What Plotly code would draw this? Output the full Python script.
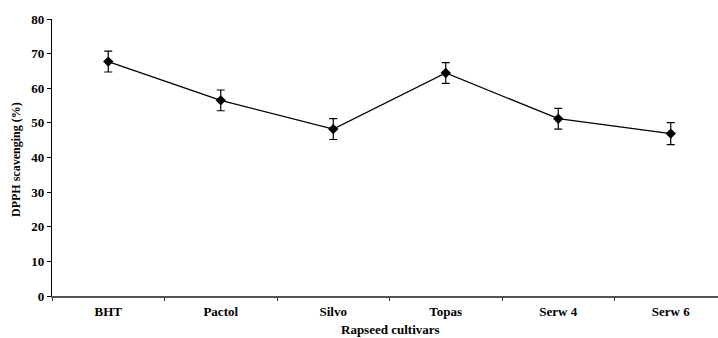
import plotly.graph_objects as go

categories = ["BHT", "Pactol", "Silvo", "Topas", "Serw 4", "Serw 6"]
dpph_values = [67.7, 56.5, 48.2, 64.4, 51.2, 46.9]
dpph_errors = [3.0, 3.0, 3.0, 3.0, 3.0, 3.2]
y_ticks = [0, 10, 20, 30, 40, 50, 60, 70, 80]

font_family = "Liberation Serif, Times New Roman, serif"

fig = go.Figure()
fig.add_trace(go.Scatter(
    x=categories, y=dpph_values,
    mode="lines+markers",
    line=dict(color="black", width=1.3),
    marker=dict(symbol="diamond", size=8, color="black"),
    error_y=dict(type="data", array=dpph_errors, visible=True,
                 color="black", thickness=1.2, width=4),
    showlegend=False,
))

fig.update_layout(
    width=718, height=338,
    margin=dict(l=52, r=0, t=19, b=42, autoexpand=False),
    paper_bgcolor="white", plot_bgcolor="white",
    font=dict(family=font_family, color="black"),
    xaxis=dict(
        type="category",
        range=[-0.5, 5.42],
        automargin=False,
        showline=True, linecolor="#555555", linewidth=1.5,
        ticks="outside", tickson="boundaries", ticklen=3, tickcolor="#333333",
        ticklabelstandoff=3,
        showgrid=False, zeroline=False,
        tickfont=dict(family=font_family, size=13, color="black", weight="bold"),
    ),
    yaxis=dict(
        range=[0, 80], tickvals=y_ticks,
        automargin=False,
        showline=True, linecolor="black", linewidth=1.2,
        ticks="outside", ticklen=4, tickcolor="black",
        showgrid=False, zeroline=False,
        tickfont=dict(family=font_family, size=13, color="black", weight="bold"),
    ),
    annotations=[
        dict(
            text="Rapseed cultivars", xref="paper", yref="paper",
            x=(390 - 52) / 666, y=-33 / 277, xanchor="center", yanchor="middle",
            showarrow=False,
            font=dict(family=font_family, size=13, color="black", weight="bold"),
        ),
        dict(
            text="DPPH scavenging (%)", xref="paper", yref="paper",
            x=(16 - 52) / 666, y=(296 - 160) / 277, xanchor="center", yanchor="middle",
            textangle=-90, showarrow=False,
            font=dict(family=font_family, size=12, color="black", weight="bold"),
        ),
    ],
)

fig.write_html("out.html",
               config={"displayModeBar": False},
               post_script="document.body.style.margin='0';document.body.style.padding='0';")
